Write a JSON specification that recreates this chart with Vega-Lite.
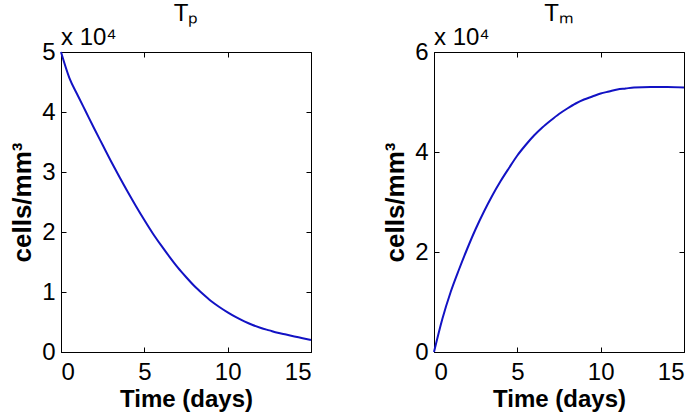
{
  "$schema": "https://vega.github.io/schema/vega-lite/v6.json",
  "background": "white",
  "padding": {"left": 9, "top": 1, "right": 0, "bottom": 0},
  "datasets": {
    "tp": [
      {"t": 0, "cells": 50000}, {"t": 0.5, "cells": 45700}, {"t": 1, "cells": 42800}, {"t": 1.5, "cells": 40000},
      {"t": 2, "cells": 37200}, {"t": 2.5, "cells": 34500}, {"t": 3, "cells": 31800}, {"t": 3.5, "cells": 29200},
      {"t": 4, "cells": 26700}, {"t": 4.5, "cells": 24300}, {"t": 5, "cells": 22000}, {"t": 5.5, "cells": 19800},
      {"t": 6, "cells": 17800}, {"t": 6.5, "cells": 15900}, {"t": 7, "cells": 14100}, {"t": 7.5, "cells": 12500},
      {"t": 8, "cells": 11000}, {"t": 8.5, "cells": 9700}, {"t": 9, "cells": 8500}, {"t": 9.5, "cells": 7500},
      {"t": 10, "cells": 6600}, {"t": 10.5, "cells": 5800}, {"t": 11, "cells": 5100}, {"t": 11.5, "cells": 4500},
      {"t": 12, "cells": 4000}, {"t": 12.5, "cells": 3600}, {"t": 13, "cells": 3200}, {"t": 13.5, "cells": 2900},
      {"t": 14, "cells": 2600}, {"t": 14.5, "cells": 2300}, {"t": 15, "cells": 2000}
    ],
    "tm": [
      {"t": 0, "cells": 0}, {"t": 0.5, "cells": 6600}, {"t": 1, "cells": 12000}, {"t": 1.5, "cells": 16500},
      {"t": 2, "cells": 20700}, {"t": 2.5, "cells": 24600}, {"t": 3, "cells": 28100}, {"t": 3.5, "cells": 31300},
      {"t": 4, "cells": 34200}, {"t": 4.5, "cells": 36800}, {"t": 5, "cells": 39300}, {"t": 5.5, "cells": 41400},
      {"t": 6, "cells": 43300}, {"t": 6.5, "cells": 44900}, {"t": 7, "cells": 46300}, {"t": 7.5, "cells": 47600},
      {"t": 8, "cells": 48700}, {"t": 8.5, "cells": 49700}, {"t": 9, "cells": 50500}, {"t": 9.5, "cells": 51100},
      {"t": 10, "cells": 51700}, {"t": 10.5, "cells": 52100}, {"t": 11, "cells": 52500}, {"t": 11.5, "cells": 52700},
      {"t": 12, "cells": 52900}, {"t": 13, "cells": 53000}, {"t": 14, "cells": 53000}, {"t": 15, "cells": 52900}
    ]
  },
  "config": {
    "font": "Liberation Sans",
    "view": {"stroke": "#000000", "strokeWidth": 1},
    "axis": {
      "grid": false,
      "domainColor": "#000000",
      "tickColor": "#000000",
      "labelColor": "#000000",
      "titleColor": "#000000",
      "labelFont": "Liberation Sans",
      "titleFont": "Liberation Sans",
      "labelFontSize": 24,
      "titleFontSize": 24,
      "titleFontWeight": "bold",
      "tickSize": -5
    },
    "axisX": {"labelPadding": 13, "titlePadding": 3},
    "axisY": {"labelPadding": 11, "titlePadding": 6, "titleFontSize": 26},
    "title": {"fontSize": 24, "fontWeight": "normal", "color": "#000000", "font": "Liberation Sans"}
  },
  "spacing": 66,
  "hconcat": [
    {
      "width": 250,
      "height": 300,
      "title": {"text": "Tₚ", "offset": 0},
      "layer": [
        {
          "data": {"name": "tp"},
          "mark": {"type": "line", "color": "#1212c4", "strokeWidth": 2, "interpolate": "monotone"},
          "encoding": {
            "x": {"field": "t", "type": "quantitative", "scale": {"domain": [0, 15], "nice": false},
                  "axis": {"values": [0, 5, 10, 15], "title": "Time (days)"}},
            "y": {"field": "cells", "type": "quantitative", "scale": {"domain": [0, 50000], "nice": false},
                  "axis": {"values": [0, 10000, 20000, 30000, 40000, 50000], "labelExpr": "datum.value / 10000", "title": "cells/mm³"}}
          }
        },
        {
          "data": {"values": [{}]},
          "mark": {"type": "text", "text": "x 10⁴", "align": "left", "baseline": "alphabetic", "dy": -7, "fontSize": 24, "color": "#000000"},
          "encoding": {
            "x": {"datum": 0, "type": "quantitative", "axis": {"orient": "top", "labels": false, "title": null, "domain": false, "values": [0, 5, 10, 15]}},
            "y": {"datum": 50000, "type": "quantitative", "axis": {"orient": "right", "labels": false, "title": null, "domain": false, "values": [0, 10000, 20000, 30000, 40000, 50000]}}
          }
        }
      ],
      "resolve": {"axis": {"x": "independent", "y": "independent"}}
    },
    {
      "width": 250,
      "height": 300,
      "title": {"text": "Tₘ", "offset": 0},
      "layer": [
        {
          "data": {"name": "tm"},
          "mark": {"type": "line", "color": "#1212c4", "strokeWidth": 2, "interpolate": "monotone"},
          "encoding": {
            "x": {"field": "t", "type": "quantitative", "scale": {"domain": [0, 15], "nice": false},
                  "axis": {"values": [0, 5, 10, 15], "title": "Time (days)"}},
            "y": {"field": "cells", "type": "quantitative", "scale": {"domain": [0, 60000], "nice": false},
                  "axis": {"values": [0, 20000, 40000, 60000], "labelExpr": "datum.value / 10000", "title": "cells/mm³"}}
          }
        },
        {
          "data": {"values": [{}]},
          "mark": {"type": "text", "text": "x 10⁴", "align": "left", "baseline": "alphabetic", "dy": -7, "fontSize": 24, "color": "#000000"},
          "encoding": {
            "x": {"datum": 0, "type": "quantitative", "axis": {"orient": "top", "labels": false, "title": null, "domain": false, "values": [0, 5, 10, 15]}},
            "y": {"datum": 60000, "type": "quantitative", "axis": {"orient": "right", "labels": false, "title": null, "domain": false, "values": [0, 20000, 40000, 60000]}}
          }
        }
      ],
      "resolve": {"axis": {"x": "independent", "y": "independent"}}
    }
  ]
}
